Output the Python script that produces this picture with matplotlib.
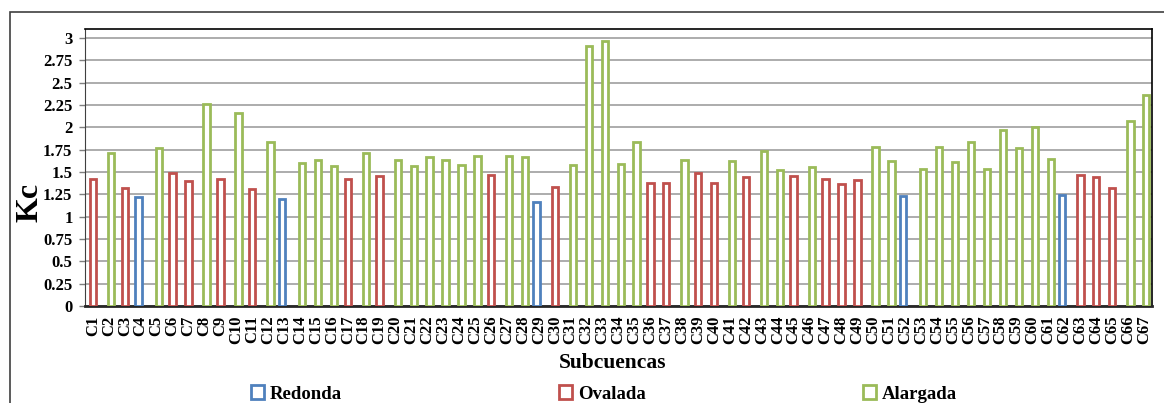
import matplotlib
matplotlib.use("Agg")
import matplotlib.pyplot as plt
from matplotlib.patches import Patch, Rectangle
import numpy as np

plt.rcParams['font.family'] = ['Liberation Serif', 'DejaVu Serif']
plt.rcParams['font.weight'] = 'bold'

# subcuencas and their Kc values
subcuencas = ["C%d" % i for i in range(1, 68)]
kc = [1.42, 1.71, 1.32, 1.22, 1.77, 1.49, 1.40, 2.26, 1.42, 2.16,
      1.31, 1.83, 1.20, 1.60, 1.63, 1.57, 1.42, 1.71, 1.46, 1.63,
      1.57, 1.67, 1.63, 1.58, 1.68, 1.47, 1.68, 1.67, 1.16, 1.33,
      1.58, 2.91, 2.97, 1.59, 1.83, 1.38, 1.38, 1.63, 1.49, 1.38,
      1.62, 1.44, 1.73, 1.52, 1.46, 1.56, 1.42, 1.36, 1.41, 1.78,
      1.62, 1.23, 1.53, 1.78, 1.61, 1.83, 1.53, 1.97, 1.77, 2.00,
      1.64, 1.24, 1.47, 1.44, 1.32, 2.07, 2.36]
# forma de cada subcuenca: R = Redonda, O = Ovalada, A = Alargada
forma = list("OAORAOOAOA"
             "OARAAAOAOA"
             "AAAAAOAARO"
             "AAAAAOOAOO"
             "AOAAOAOOOA"
             "ARAAAAAAAA"
             "AROOOAA")

series = [("R", "Redonda", "#4F81BD", -0.14),
          ("O", "Ovalada", "#C0504D", 0.0),
          ("A", "Alargada", "#9BBB59", 0.14)]

fig = plt.figure(figsize=(11.64, 4.03), dpi=100)
ax = fig.add_axes([85/1164, 1-306/403, (1152-85)/1164, (306-29)/403])

# outer chart frame
fig.patches.append(Rectangle((10/1164, -0.1), 1.2, 1-12/403+0.1, transform=fig.transFigure,
                             fill=False, edgecolor='#404040', linewidth=1.2))

x = np.arange(len(subcuencas))
for code, name, color, off in series:
    idx = [i for i, f in enumerate(forma) if f == code]
    ax.bar(x[idx] + off, [kc[i] for i in idx], width=0.4,
           facecolor='white', edgecolor=color, linewidth=2, zorder=3)

ax.set_xlim(-0.5, len(subcuencas) - 0.5)
ax.set_ylim(0, 3.1)
yt = np.arange(0, 3.01, 0.25)
ax.set_yticks(yt)
ax.set_yticklabels(['%g' % v for v in yt], fontsize=12, fontweight='bold')
ax.set_xticks(x)
ax.set_xticklabels(subcuencas, rotation=90, fontsize=12, fontweight='bold')
ax.tick_params(axis='x', length=0, pad=7)
ax.tick_params(axis='y', length=4, width=1, color='#7f7f7f', pad=5)
ax.yaxis.grid(True, color='#a6a6a6', linewidth=1.3, zorder=0)
ax.set_axisbelow(True)
for s in ['top', 'right']:
    ax.spines[s].set_color('black')
    ax.spines[s].set_linewidth(1.2)
ax.spines['left'].set_color('#404040')
ax.spines['bottom'].set_color('#262626')
ax.spines['bottom'].set_linewidth(2)

fig.text(30/1164, 1-202/403, 'Kc', rotation=90, ha='center', va='center',
         fontsize=23, fontweight='bold')
fig.text(613/1164, 1-363/403, 'Subcuencas', ha='center', va='center',
         fontsize=15.5, fontweight='bold')

handles = [Patch(facecolor='white', edgecolor=c, linewidth=2, label=n)
           for _, n, c, _ in series]
fig.legend(handles=handles, loc='center', bbox_to_anchor=(604/1164, 1-394/403),
           ncol=3, frameon=False, handlelength=0.7, handleheight=0.7,
           handletextpad=0.3, columnspacing=11.6, prop={'weight': 'bold', 'size': 13.5})

fig.savefig('out.png', dpi=100)
